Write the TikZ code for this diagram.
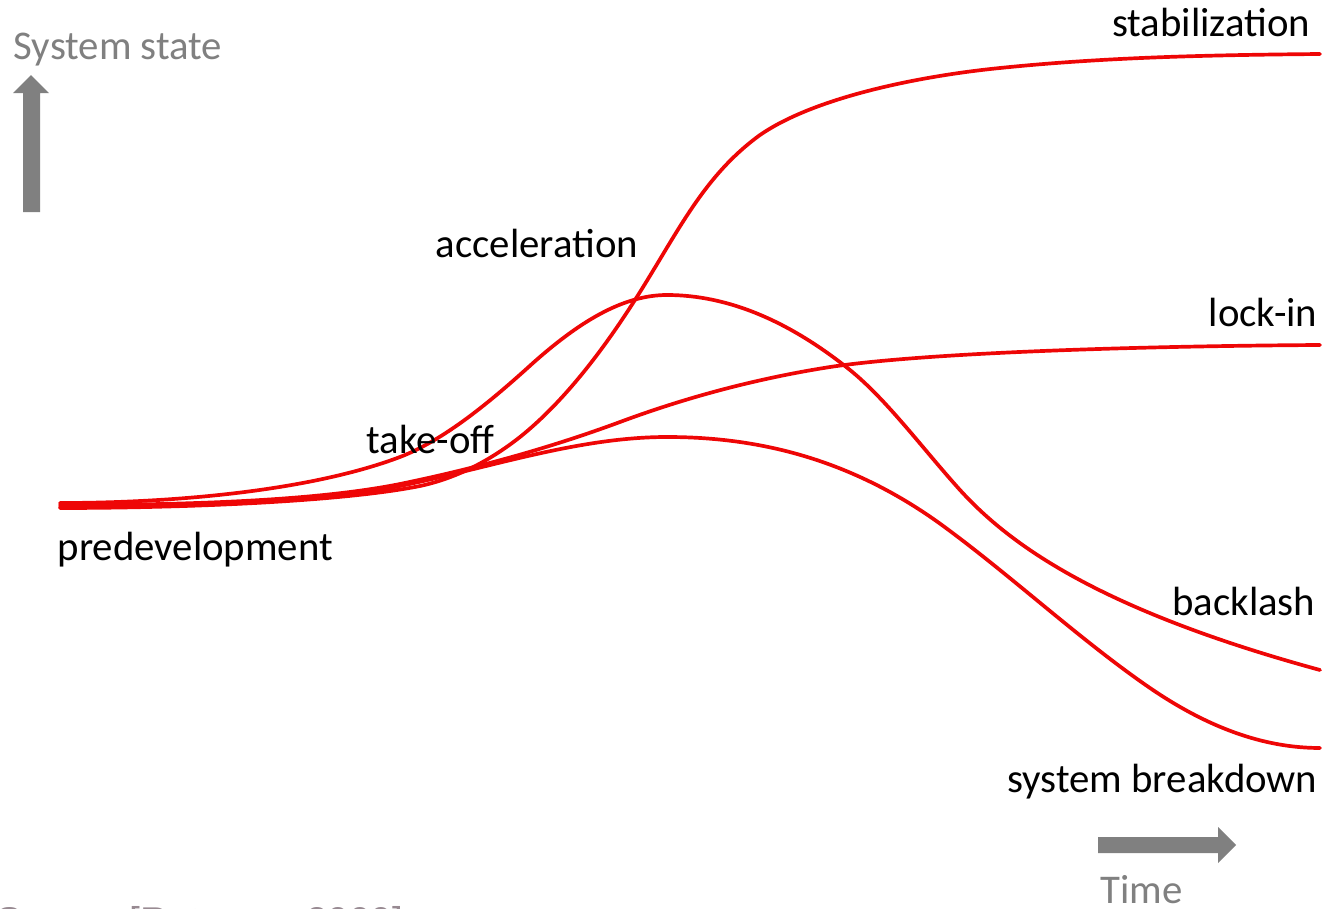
\documentclass[tikz,border=0pt]{standalone}
\usepackage{fontspec}
\setmainfont{Carlito}
\newfontfamily\citefont{Liberation Sans}
\usepackage{xcolor}
\usetikzlibrary{positioning}
\definecolor{curvered}{RGB}{238,6,6}
\definecolor{axisgray}{RGB}{128,128,128}
\definecolor{citegray}{RGB}{152,138,146}

\begin{document}
\begin{tikzpicture}[x=0.01cm, y=-0.01cm,
    curve/.style={curvered, line width=1.05pt, line cap=round},
    phase/.style={font=\fontsize{11.6}{14}\selectfont, inner sep=0pt},
    axislabel/.style={phase, text=axisgray}]
    \useasboundingbox (0,0) rectangle (1326,909);

    % Axis arrows
    \fill[axisgray] (23,212) -- (23,93) -- (13,93) -- (31,75) -- (49,93) -- (40,93) -- (40,212) -- cycle;
    \node[axislabel, anchor=base west] (state) at (13,60) {System state};
    \fill[axisgray] (1098,837) -- (1218,837) -- (1218,827) -- (1236,845) -- (1218,863) -- (1218,853) -- (1098,853) -- cycle;
    \node[axislabel, anchor=base west] (time) at (1100,903) {Time};

    % Stabilization path
    \draw[curve] (60,508) .. controls (180,508) and (340,502) .. (420,486)
        .. controls (453,479) and (487,463) .. (520,437)
        .. controls (560,405) and (600,356) .. (640,292)
        .. controls (680,228) and (705,175) .. (760,135)
        .. controls (815,97) and (920,76) .. (1000,68)
        .. controls (1107,57) and (1213,55) .. (1320,54);
    % Backlash path
    \draw[curve] (60,503) .. controls (173,503) and (310,491) .. (400,457)
        .. controls (444,440) and (489,403) .. (533,363)
        .. controls (578,323) and (622,295) .. (667,295)
        .. controls (728,295) and (789,321) .. (850,370)
        .. controls (887,400) and (923,449) .. (960,490)
        .. controls (1010,545) and (1100,610) .. (1320,670);
    % Lock-in path
    \draw[curve] (60,505) .. controls (173,505) and (310,502) .. (400,484)
        .. controls (473,469) and (547,449) .. (620,422)
        .. controls (690,396) and (760,378) .. (830,367)
        .. controls (930,352) and (1150,346) .. (1320,345);
    % Breakdown path
    \draw[curve] (60,507) .. controls (173,507) and (310,504) .. (400,486)
        .. controls (489,468) and (578,437) .. (667,437)
        .. controls (761,437) and (856,460) .. (950,531)
        .. controls (1017,581) and (1083,642) .. (1150,688)
        .. controls (1207,727) and (1263,748) .. (1320,748);

    % Phase labels
    \node[phase, anchor=base east] (stab) at (1311,37) {stabilization};
    \node[phase, anchor=base west] (accel) at (435,257) {acceleration};
    \node[phase, anchor=base east] (lockin) at (1318,327) {lock-in};
    \node[phase, anchor=base west] (takeoff) at (366,453) {take-off};
    \node[phase, anchor=base west] (predev) at (57,560) {predevelopment};
    \node[phase, anchor=base east] (backlash) at (1316,615) {backlash};
    \node[phase, anchor=base east] (breakdown) at (1318,792) {system breakdown};

    % Source, cut at the lower edge
    \begin{scope}
        \clip (0,0) rectangle (1326,909);
        \node[inner sep=0pt, anchor=base west, text=citegray, font=\citefont\fontsize{11}{13}\selectfont] (source) at (-4,934) {Source [Rotmans 2000]};
    \end{scope}
\end{tikzpicture}
\end{document}
